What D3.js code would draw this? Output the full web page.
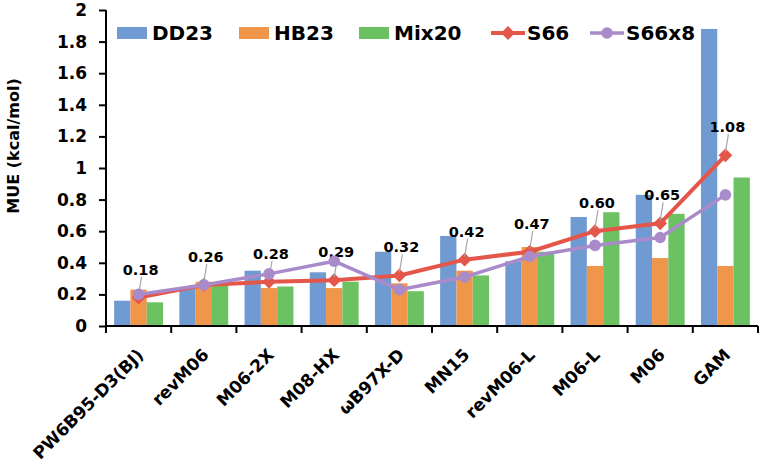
<!DOCTYPE html>
<html>
<head>
<meta charset="utf-8">
<script src="https://cdn.jsdelivr.net/npm/d3@7"></script>
<style>
  html, body { margin: 0; padding: 0; background: #fff; }
  svg { display: block; font-family: "DejaVu Sans", sans-serif; font-weight: bold; }
</style>
</head>
<body>
<svg id="chart" width="762" height="462"></svg>
<script>
const categories = ["PW6B95-D3(BJ)", "revM06", "M06-2X", "M08-HX", "\u03c9B97X-D", "MN15", "revM06-L", "M06-L", "M06", "GAM"];
const dd23  = [0.16, 0.24, 0.35, 0.34, 0.47, 0.57, 0.41, 0.69, 0.83, 1.88];
const hb23  = [0.23, 0.28, 0.24, 0.24, 0.27, 0.35, 0.50, 0.38, 0.43, 0.38];
const mix20 = [0.15, 0.26, 0.25, 0.28, 0.22, 0.32, 0.47, 0.72, 0.71, 0.94];
const s66   = [0.18, 0.26, 0.28, 0.29, 0.32, 0.42, 0.47, 0.60, 0.65, 1.08];
const s66x8 = [0.20, 0.26, 0.33, 0.41, 0.23, 0.31, 0.44, 0.51, 0.56, 0.83];
const yTicks = [0, 0.2, 0.4, 0.6, 0.8, 1, 1.2, 1.4, 1.6, 1.8, 2];
const barSeries = ["DD23", "HB23", "Mix20"];
const lineSeries = ["S66", "S66x8"];
const yTitle = "MUE (kcal/mol)";

const colors = { DD23: "#6f9bd2", HB23: "#f0964b", Mix20: "#6cc163", S66: "#e4564a", S66x8: "#a98bcb" };
const barData = { DD23: dd23, HB23: hb23, Mix20: mix20 };

const svg = d3.select("#chart");
const mLeft = 106, mRight = 758, mTop = 10, mBottom = 326;

const x0 = d3.scaleBand().domain(categories).range([mLeft, mRight]).paddingInner(0.25).paddingOuter(0.125);
const x1 = d3.scaleBand().domain(barSeries).range([0, x0.bandwidth()]);
const y = d3.scaleLinear().domain([0, 2]).range([mBottom, mTop]);
const cx = c => x0(c) + x0.bandwidth() / 2;

// bars
barSeries.forEach(s => {
  svg.append("g").selectAll("rect")
    .data(categories.map((c, i) => ({ c, v: barData[s][i] })))
    .join("rect")
    .attr("x", d => x0(d.c) + x1(s))
    .attr("width", x1.bandwidth())
    .attr("y", d => y(d.v))
    .attr("height", d => y(0) - y(d.v))
    .attr("fill", colors[s]);
});

// y axis
const yAxis = svg.append("g")
  .attr("transform", `translate(${mLeft},0)`)
  .call(d3.axisLeft(y).tickValues(yTicks).tickFormat(d3.format("~g")).tickSize(7).tickPadding(12));
yAxis.select(".domain").attr("stroke", "#000").attr("stroke-width", 2).attr("d", `M0,${mTop}V${mBottom}`);
yAxis.selectAll(".tick line").attr("stroke", "#000").attr("stroke-width", 2);
yAxis.selectAll(".tick text").attr("font-size", 17).attr("font-weight", "bold").attr("fill", "#000")
  .attr("font-family", "DejaVu Sans");

// x axis (ticks at band boundaries)
const xg = svg.append("g");
xg.append("line").attr("x1", mLeft).attr("x2", mRight).attr("y1", mBottom).attr("y2", mBottom)
  .attr("stroke", "#000").attr("stroke-width", 2);
const bounds = categories.map(c => x0(c) - x0.step() * x0.paddingInner() / 2).concat([mRight]);
xg.selectAll("line.tk").data(bounds).join("line").attr("class", "tk")
  .attr("x1", d => d).attr("x2", d => d).attr("y1", mBottom).attr("y2", mBottom + 7)
  .attr("stroke", "#000").attr("stroke-width", 2);
xg.selectAll("text").data(categories).join("text")
  .attr("transform", d => `translate(${cx(d) + 6},${mBottom + 30}) rotate(-45)`)
  .attr("text-anchor", "end")
  .attr("font-size", 17)
  .attr("fill", "#000")
  .text(d => d);

// y title
svg.append("text")
  .attr("transform", `translate(19,${(75 + 217) / 2}) rotate(-90)`)
  .attr("text-anchor", "middle")
  .attr("font-size", 16)
  .attr("fill", "#000")
  .text(yTitle);

// lines
const lineGen = d3.line().x(d => cx(d.c)).y(d => y(d.v));
const s66pts = categories.map((c, i) => ({ c, v: s66[i] }));
const s66x8pts = categories.map((c, i) => ({ c, v: s66x8[i] }));

svg.append("path").datum(s66pts).attr("d", lineGen)
  .attr("fill", "none").attr("stroke", colors.S66).attr("stroke-width", 4).attr("stroke-linejoin", "round");
svg.append("g").selectAll("path").data(s66pts).join("path")
  .attr("d", d3.symbol(d3.symbolSquare, 95))
  .attr("transform", d => `translate(${cx(d.c)},${y(d.v)}) rotate(45)`)
  .attr("fill", colors.S66);

// leader lines and labels for S66
const lbl = svg.append("g");
lbl.selectAll("line").data(s66pts).join("line")
  .attr("x1", d => cx(d.c) + 3).attr("y1", d => y(d.v) - 21)
  .attr("x2", d => cx(d.c)).attr("y2", d => y(d.v) - 3)
  .attr("stroke", "#a6a6a6").attr("stroke-width", 1.2);

svg.append("path").datum(s66x8pts).attr("d", lineGen)
  .attr("fill", "none").attr("stroke", colors.S66x8).attr("stroke-width", 3.5).attr("stroke-linejoin", "round");
svg.append("g").selectAll("circle").data(s66x8pts).join("circle")
  .attr("cx", d => cx(d.c)).attr("cy", d => y(d.v)).attr("r", 5.8)
  .attr("fill", colors.S66x8);

lbl.selectAll("text").data(s66pts).join("text")
  .attr("x", d => cx(d.c) + 2).attr("y", d => y(d.v) - 23)
  .attr("text-anchor", "middle")
  .attr("font-size", 14.5)
  .attr("fill", "#000")
  .text(d => d.v.toFixed(2));

// legend
const leg = svg.append("g");
const legItems = [
  { name: "DD23", type: "bar", x: 117 },
  { name: "HB23", type: "bar", x: 239 },
  { name: "Mix20", type: "bar", x: 359 },
  { name: "S66", type: "diamond", x: 491 },
  { name: "S66x8", type: "circle", x: 590 }
];
legItems.forEach(it => {
  const g = leg.append("g").attr("transform", `translate(${it.x},0)`);
  if (it.type === "bar") {
    g.append("rect").attr("x", 0).attr("y", 27).attr("width", 30).attr("height", 12).attr("fill", colors[it.name]);
  } else {
    g.append("line").attr("x1", 0).attr("x2", 34).attr("y1", 33).attr("y2", 33)
      .attr("stroke", colors[it.name]).attr("stroke-width", it.type === "diamond" ? 4 : 3.5);
    if (it.type === "diamond") {
      g.append("path").attr("d", d3.symbol(d3.symbolSquare, 95))
        .attr("transform", "translate(17,33) rotate(45)").attr("fill", colors[it.name]);
    } else {
      g.append("circle").attr("cx", 17).attr("cy", 33).attr("r", 5.8).attr("fill", colors[it.name]);
    }
  }
  g.append("text").attr("x", it.type === "bar" ? 35 : 36).attr("y", 40)
    .attr("font-size", 20).attr("fill", "#000").text(it.name);
});
</script>
</body>
</html>
